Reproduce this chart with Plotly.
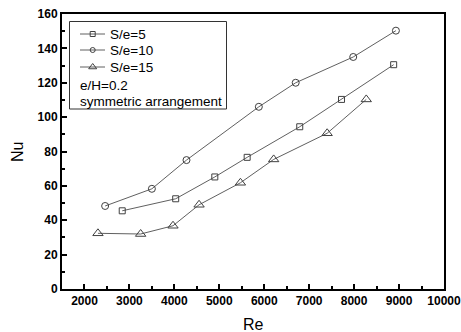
import plotly.graph_objects as go

# Nusselt number vs Reynolds number for three rib pitch ratios
re_s5 = [2840, 4030, 4900, 5620, 6790, 7720, 8880]
nu_s5 = [45.5, 52.5, 65.2, 76.6, 94.4, 110.3, 130.5]

re_s10 = [2460, 3500, 4270, 5880, 6700, 7980, 8930]
nu_s10 = [48.3, 58.3, 75.0, 106.0, 120.0, 135.0, 150.3]

re_s15 = [2300, 3250, 3970, 4550, 5470, 6210, 7400, 8270]
nu_s15 = [32.4, 32.0, 36.8, 49.0, 61.8, 75.4, 90.6, 110.3]

series_names = ["S/e=5", "S/e=10", "S/e=15"]
notes = ["e/H=0.2", "symmetric arrangement"]

x_ticks = [2000, 3000, 4000, 5000, 6000, 7000, 8000, 9000, 10000]
y_ticks = [0, 20, 40, 60, 80, 100, 120, 140, 160]

series = [
    (series_names[0], re_s5, nu_s5, "square-open", 6),
    (series_names[1], re_s10, nu_s10, "circle-open", 7),
    (series_names[2], re_s15, nu_s15, "triangle-up-open", 9),
]

line_col = "#606060"
mark_col = "#404040"
font_main = "Liberation Sans, Arial, sans-serif"

W, H = 461, 332
ML, MR, MT, MB = 62, 17, 14, 43
PW, PH = W - ML - MR, H - MT - MB


def px_to_paper(px, py):
    """Convert a pixel position (from the top-left corner) to paper coords."""
    return (px - ML) / PW, (H - MB - py) / PH


fig = go.Figure()
for name, xs, ys, sym, sz in series:
    fig.add_trace(go.Scatter(
        x=xs, y=ys, name=name, mode="lines+markers", showlegend=False,
        line=dict(color=line_col, width=1),
        marker=dict(symbol=sym, size=sz, color=mark_col,
                    line=dict(width=1, color=mark_col)),
    ))

# Legend key: an overlay axis pair measured in pixels from the top-left corner
row_y = [34, 50, 67]
for (name, _, _, sym, sz), ry in zip(series, row_y):
    fig.add_trace(go.Scatter(
        x=[80, 105], y=[ry, ry], mode="lines", xaxis="x2", yaxis="y2",
        line=dict(color=line_col, width=1), showlegend=False, hoverinfo="skip",
    ))
    fig.add_trace(go.Scatter(
        x=[92.7], y=[ry], mode="markers", xaxis="x2", yaxis="y2",
        marker=dict(symbol=sym, size=max(sz - 2, 5), color=mark_col,
                    line=dict(width=1, color=mark_col)),
        showlegend=False, hoverinfo="skip",
    ))
    fig.add_annotation(text=name, xref="x2", yref="y2", x=108, y=ry,
                       xanchor="left", yanchor="middle", showarrow=False,
                       font=dict(size=13.5, family=font_main))

for txt, ry in zip(notes, [85, 101]):
    fig.add_annotation(text=txt, xref="x2", yref="y2", x=78, y=ry,
                       xanchor="left", yanchor="middle", showarrow=False,
                       font=dict(size=13.5, family=font_main))

fig.add_shape(type="rect", xref="x2", yref="y2",
              x0=69.5, x1=226.5, y0=21.5, y1=109,
              line=dict(color="#333", width=1), fillcolor="rgba(0,0,0,0)")

# Axis titles
rx, ry_ = px_to_paper(253, 324)
fig.add_annotation(text="Re", xref="paper", yref="paper", x=rx, y=ry_,
                   xanchor="center", yanchor="middle", showarrow=False,
                   font=dict(size=16, family=font_main))
nx, ny = px_to_paper(17, 152)
fig.add_annotation(text="Nu", xref="paper", yref="paper", x=nx, y=ny,
                   xanchor="center", yanchor="middle", showarrow=False,
                   textangle=-90, font=dict(size=16, family=font_main))

tickfont = dict(size=12, family="Liberation Sans, Arial", weight="bold")

fig.update_layout(
    width=W, height=H,
    margin=dict(l=ML, r=MR, t=MT, b=MB, autoexpand=False),
    paper_bgcolor="white", plot_bgcolor="white",
    font=dict(family=font_main, color="black"),
    showlegend=False,
    xaxis=dict(
        range=[1500, 10000], tickvals=x_ticks, automargin=False,
        ticktext=[str(v) for v in x_ticks], ticklabeloverflow="allow",
        ticks="inside", ticklen=5, tickwidth=1.5, tickcolor="black",
        minor=dict(dtick=500, tick0=1500, ticks="inside", ticklen=3,
                   tickwidth=1.5, tickcolor="black"),
        showline=True, linecolor="black", linewidth=2, mirror=True,
        showgrid=False, zeroline=False, tickfont=tickfont,
    ),
    yaxis=dict(
        range=[0, 160], tickvals=y_ticks, ticklabeloverflow="allow",
        automargin=False,
        ticks="inside", ticklen=5, tickwidth=1.5, tickcolor="black",
        minor=dict(dtick=10, tick0=0, ticks="inside", ticklen=3,
                   tickwidth=1.5, tickcolor="black"),
        showline=True, linecolor="black", linewidth=2, mirror=True,
        showgrid=False, zeroline=False, tickfont=tickfont,
    ),
    xaxis2=dict(range=[ML, W - MR], overlaying="x", visible=False,
                fixedrange=True, automargin=False),
    yaxis2=dict(range=[H - MB, MT], overlaying="y", visible=False,
                fixedrange=True, automargin=False),
)

fig.write_html("out.html")
